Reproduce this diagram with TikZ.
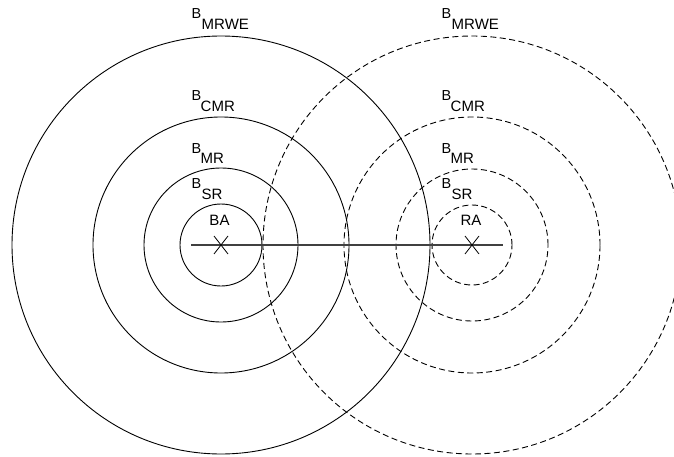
\documentclass[tikz,border=0pt]{standalone}
\usepackage{fontspec}
\setmainfont{Liberation Sans}
\begin{document}
\begin{tikzpicture}[x=1pt,y=-1pt,
  ring/.style={draw=black,line width=0.9pt},
  dring/.style={ring,dash pattern=on 6pt off 3.5pt},
  axis/.style={draw=black!75,line width=1.4pt},
  cross/.style={draw=black,line width=0.8pt},
  bsym/.style={anchor=base west,inner sep=0pt,font=\fontsize{14.5}{15}\selectfont},
  bsub/.style={anchor=base west,inner sep=0pt,font=\fontsize{15}{16}\selectfont},
  tag/.style={anchor=base,inner sep=0pt,font=\fontsize{15}{16}\selectfont}]
\useasboundingbox (0,0) rectangle (674,457);
\clip (0,0) rectangle (674,457);

% centres of the two systems
\coordinate (BC) at (221,245);
\coordinate (RC) at (472,245);

% solid rings around BA
\foreach \r in {41,77,128,209}
  \draw[ring] (BC) circle (\r pt);
% dashed rings around RA
\foreach \r in {40,76,128,209}
  \draw[dring] (RC) circle (\r pt);

% connecting axis
\coordinate (L0) at (191,245);
\coordinate (L1) at (503,245);
\draw[axis] (L0) -- (L1);

% centre marks
\coordinate (BX1) at (214,236); \coordinate (BX2) at (228,254);
\coordinate (BX3) at (214,254); \coordinate (BX4) at (228,236);
\draw[cross] (BX1) -- (BX2) (BX3) -- (BX4);
\coordinate (RX1) at (465,236); \coordinate (RX2) at (479,254);
\coordinate (RX3) at (465,254); \coordinate (RX4) at (479,236);
\draw[cross] (RX1) -- (RX2) (RX3) -- (RX4);

% centre labels
\node[tag] (ba) at (219.5,225) {BA};
\node[tag] (ra) at (471,225) {RA};

% ring labels, left system
\node[bsym] (lb1) at (191.5,19) {B};  \node[bsub] (ls1) at (201.5,30) {MRWE};
\node[bsym] (lb2) at (191.5,100.5){B};  \node[bsub] (ls2) at (200.5,111.7) {CMR};
\node[bsym] (lb3) at (191.5,154){B};  \node[bsub] (ls3) at (200.5,164) {MR};
\node[bsym] (lb4) at (191.5,189){B};  \node[bsub] (ls4) at (201.5,200) {SR};

% ring labels, right system
\node[bsym] (rb1) at (441.5,19) {B};  \node[bsub] (rs1) at (451.5,30) {MRWE};
\node[bsym] (rb2) at (441.5,100.5){B};  \node[bsub] (rs2) at (450.5,111.7) {CMR};
\node[bsym] (rb3) at (441.5,154){B};  \node[bsub] (rs3) at (450.5,164) {MR};
\node[bsym] (rb4) at (441.5,189){B};  \node[bsub] (rs4) at (451.5,200) {SR};
\end{tikzpicture}
\end{document}
